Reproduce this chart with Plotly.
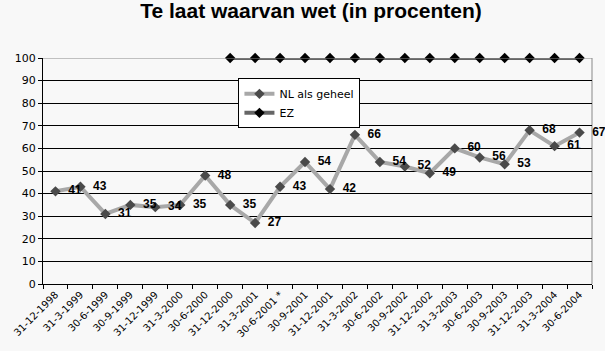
import plotly.graph_objects as go

categories = ["31-12-1998", "31-3-1999", "30-6-1999", "30-9-1999", "31-12-1999",
              "31-3-2000", "30-6-2000", "31-12-2000", "31-3-2001", "30-6-2001 *",
              "30-9-2001", "31-12-2001", "31-3-2002", "30-6-2002", "30-9-2002",
              "31-12-2002", "31-3-2003", "30-6-2003", "30-9-2003", "31-12-2003",
              "31-3-2004", "30-6-2004"]
nl_values = [41, 43, 31, 35, 34, 35, 48, 35, 27, 43, 54, 42, 66, 54, 52, 49, 60, 56, 53, 68, 61, 67]
ez_categories = categories[7:]
ez_values = [100] * len(ez_categories)
y_ticks = [0, 10, 20, 30, 40, 50, 60, 70, 80, 90, 100]

FONT = "Liberation Sans, Arial, sans-serif"
WIDE = "DejaVu Sans, sans-serif"

fig = go.Figure()
fig.add_trace(go.Scatter(
    x=categories, y=nl_values, name="NL als geheel",
    mode="lines+markers+text",
    line=dict(color="#a8a8a8", width=4),
    marker=dict(symbol="diamond", size=8, color="#4a4a4a"),
    text=[str(v) for v in nl_values], texttemplate="  %{text}", textposition="middle right",
    textfont=dict(family=FONT, size=12, color="#000000", weight="bold"),
    cliponaxis=False,
))
fig.add_trace(go.Scatter(
    x=ez_categories, y=ez_values, name="EZ",
    mode="lines+markers",
    line=dict(color="#666666", width=4),
    marker=dict(symbol="diamond", size=8, color="#000000"),
    cliponaxis=False,
))

fig.update_layout(
    width=605, height=351,
    margin=dict(l=42, r=13, t=58, b=64),
    paper_bgcolor="#f8f8f8", plot_bgcolor="#f8f8f8",
    font=dict(family=WIDE, size=11, color="#000000"),
    title=dict(text="<b>Te laat waarvan wet (in procenten)</b>", x=0.514, xanchor="center",
               xref="paper" if False else "container",
               y=0.97, yanchor="middle", font=dict(family=FONT, size=21, color="#000000")),
    showlegend=True,
    legend=dict(x=0.356, y=0.91, xanchor="left", yanchor="top",
                bgcolor="#ffffff", bordercolor="#000000", borderwidth=1,
                font=dict(family=WIDE, size=11, color="#000000"),
                tracegroupgap=2, itemwidth=30),
    xaxis=dict(type="category", categoryarray=categories, categoryorder="array",
               tickson="boundaries", ticks="outside", ticklen=4, tickcolor="#000000",
               showline=True, linecolor="#000000", linewidth=1, showgrid=False,
               tickangle=-45, tickfont=dict(family=WIDE, size=10, color="#000000"),
               range=[-0.5, len(categories) - 0.5], zeroline=False),
    yaxis=dict(range=[0, 100], tickvals=y_ticks, ticks="outside", ticklen=4,
               tickcolor="#000000", showline=True, linecolor="#000000", linewidth=1,
               showgrid=True, gridcolor="#000000", gridwidth=1, zeroline=False,
               tickfont=dict(family=WIDE, size=11, color="#000000")),
)
# gray top border and right border of the plot area
fig.add_shape(type="line", xref="paper", yref="y", x0=0, x1=1, y0=100, y1=100,
              line=dict(color="#888888", width=1), layer="above")
fig.add_shape(type="line", xref="paper", yref="paper", x0=1, x1=1, y0=0, y1=1,
              line=dict(color="#888888", width=1), layer="below")

fig.write_html("out.html")
